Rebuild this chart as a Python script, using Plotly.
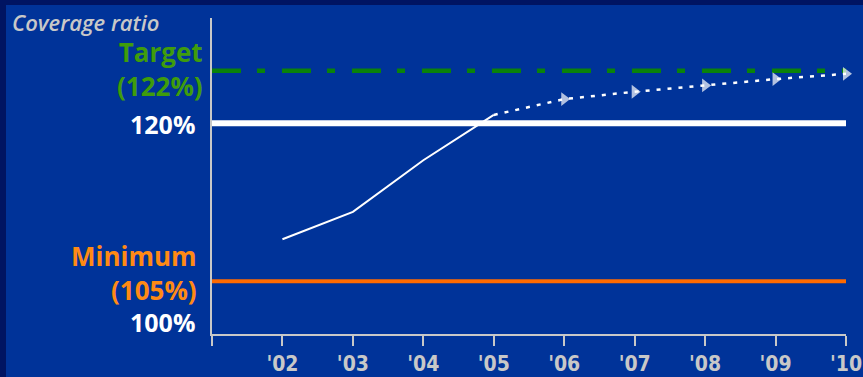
import plotly.graph_objects as go

# ---- data ----
years_actual = [2002, 2003, 2004, 2005]
ratio_actual = [109.0, 111.6, 116.5, 120.8]
years_proj = [2005, 2006, 2007, 2008, 2009, 2010]
ratio_proj = [120.8, 122.3, 123.0, 123.6, 124.2, 124.7]
level_years = [2001, 2010]
target_level = 125.0      # drawn position of the "Target (122%)" line
reference_level = 120.0
minimum_level = 105.0
tick_years = [2001, 2002, 2003, 2004, 2005, 2006, 2007, 2008, 2009, 2010]
tick_labels = ["", "'02", "'03", "'04", "'05", "'06", "'07", "'08", "'09", "'10"]

W, H = 863, 377
ML, MR, MT, MB = 212, 17, 18, 43
PW = W - ML - MR
PH = H - MT - MB

BG = "#003399"
FRAME = "#001462"
GRID_GRAY = "#c8c8c8"
GREEN_LINE = "#0a820a"
GREEN_TXT = "#3f9c0c"
ORANGE_LINE = "#ff6a00"
ORANGE_TXT = "#ff8a14"
FONT = "Open Sans"

fig = go.Figure()

fig.add_trace(go.Scatter(x=level_years, y=[minimum_level] * 2, mode="lines",
                         line=dict(color=ORANGE_LINE, width=4), hoverinfo="skip"))
fig.add_trace(go.Scatter(x=level_years, y=[reference_level] * 2, mode="lines",
                         line=dict(color="white", width=6), hoverinfo="skip"))
fig.add_trace(go.Scatter(x=level_years, y=[target_level] * 2, mode="lines",
                         line=dict(color=GREEN_LINE, width=4.5, dash="29px,16px,8px,17px"),
                         hoverinfo="skip"))
fig.add_trace(go.Scatter(x=years_actual, y=ratio_actual, mode="lines",
                         line=dict(color="white", width=2), hoverinfo="skip"))
fig.add_trace(go.Scatter(x=years_proj, y=ratio_proj, mode="lines+markers",
                         line=dict(color="white", width=2.5, dash="4px,7px"),
                         marker=dict(symbol="triangle-right", color="white",
                                     size=[0] + [12] * (len(years_proj) - 1),
                                     line=dict(width=0)),
                         hoverinfo="skip", cliponaxis=False))

fig.update_xaxes(range=[2001, 2010], tickvals=tick_years, ticktext=tick_labels,
                 showgrid=False, zeroline=False, showline=True, linecolor=GRID_GRAY,
                 linewidth=2, ticks="outside", ticklen=10, tickwidth=2, tickcolor=GRID_GRAY,
                 ticklabelstandoff=0, ticklabeloverflow="allow", automargin=False,
                 tickfont=dict(family="DejaVu Sans Condensed, Roboto, sans-serif", size=21,
                               color=GRID_GRAY, weight="bold"),
                 fixedrange=True)
fig.update_yaxes(range=[100, 130], showgrid=False, zeroline=False, showline=True,
                 linecolor=GRID_GRAY, linewidth=2, showticklabels=False, ticks="",
                 automargin=False, fixedrange=True)

# frame bands (top and left)
px = 1.0 / PW
py = 1.0 / PH
fig.add_shape(type="rect", xref="paper", yref="paper", layer="below",
              x0=-1, x1=2, y0=1 + (MT - 5) * py, y1=2,
              fillcolor=FRAME, line_width=0)
fig.add_shape(type="rect", xref="paper", yref="paper", layer="below",
              x0=-1, x1=(-ML + 6) * px, y0=-1, y1=2,
              fillcolor=FRAME, line_width=0)

def label(text, y, color, size, yshift, xshift):
    fig.add_annotation(text=text, xref="paper", x=0, yref="y", y=y, xanchor="right",
                       yanchor="middle", align="right", xshift=xshift, yshift=yshift,
                       showarrow=False,
                       font=dict(family=FONT, size=size, color=color, weight="bold"))

label("Target<br>(122%)", target_level, GREEN_TXT, 26, 2, -7)
label("120%", reference_level, "white", 25, -1, -15)
label("Minimum<br>(105%)", minimum_level, ORANGE_TXT, 26, 8, -13)
label("100%", 100, "white", 25, 12, -15)

fig.add_annotation(text="Coverage ratio", xref="paper", x=0, yref="paper", y=1,
                   xanchor="left", yanchor="middle", xshift=-202, yshift=-4, showarrow=False,
                   font=dict(family=FONT, size=22, color=GRID_GRAY, style="italic", weight=600))

fig.update_layout(template="none", width=W, height=H,
                  margin=dict(l=ML, r=MR, t=MT, b=MB, autoexpand=False),
                  paper_bgcolor=BG, plot_bgcolor=BG, showlegend=False)

fig.write_html("out.html", config={"displayModeBar": False},
               post_script="document.body.style.margin='0';document.body.style.background='#003399';")
